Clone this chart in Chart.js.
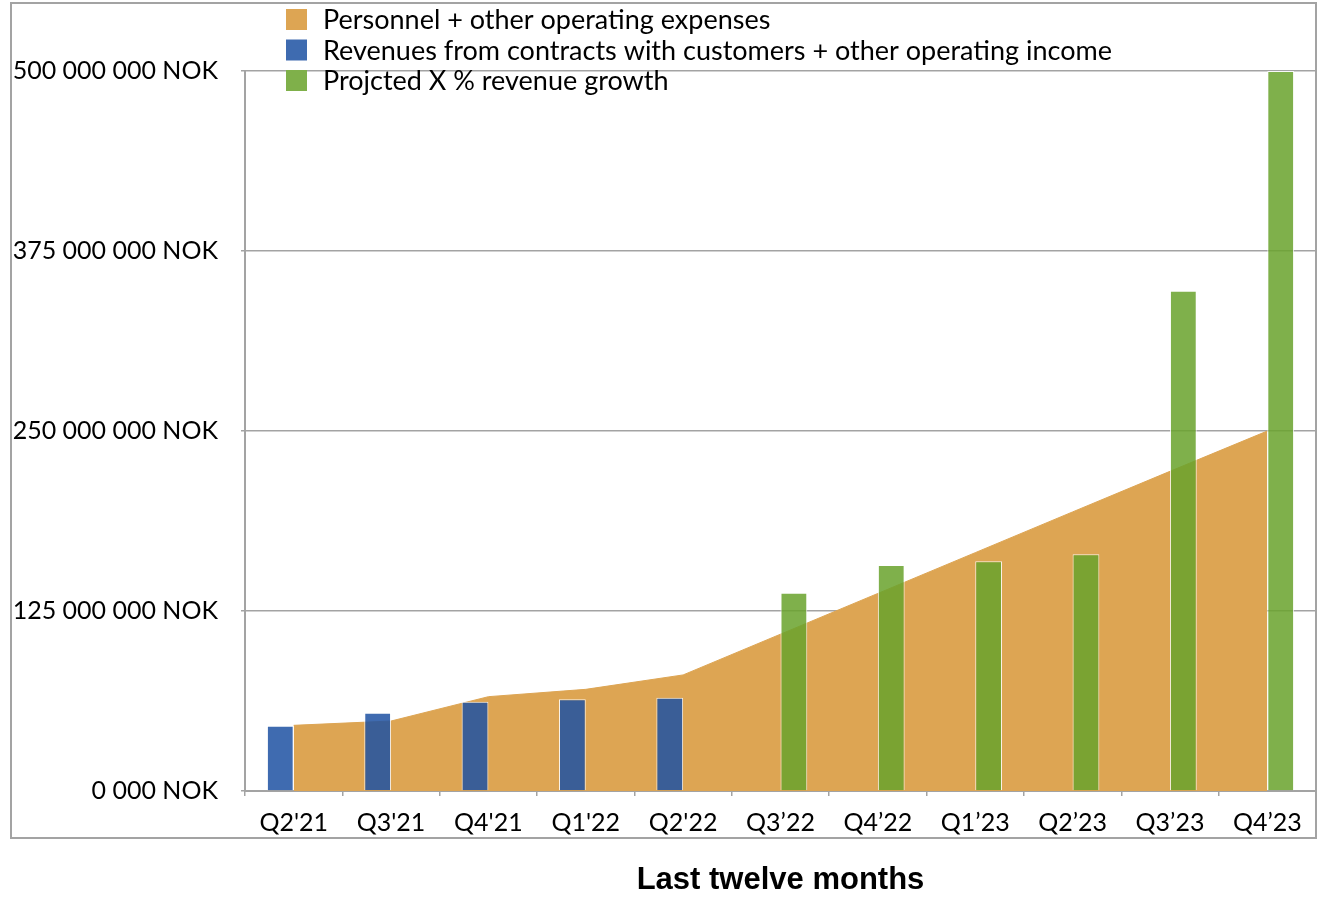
<!DOCTYPE html>
<html>
<head>
<meta charset="utf-8">
<script src="https://cdn.jsdelivr.net/npm/chart.js@4.4.1/dist/chart.umd.min.js"></script>
<style>
  html, body { margin: 0; padding: 0; background: #fff; }
  #wrap { width: 1326px; height: 906px; }
</style>
</head>
<body>
<div id="wrap"><canvas id="chart" width="1326" height="906"></canvas></div>
<script>
// values in millions of NOK
const quarters = ["Q2'21", "Q3'21", "Q4'21", "Q1'22", "Q2'22", "Q3\u201922", "Q4\u201922", "Q1\u201923", "Q2\u201923", "Q3\u201923", "Q4\u201923"];
const expenses = [45.6, 48.6, 65.5, 70.6, 80.6, 108.9, 137.2, 165.5, 193.8, 222.0, 250];
const revenues = [45.3, 54.4, 62.0, 63.7, 64.8, null, null, null, null, null, null];
const projected = [null, null, null, null, null, 137.7, 156.9, 159.5, 164.4, 347.4, 500];
const yTickLabels = ['0 000 NOK', '125 000 000 NOK', '250 000 000 NOK', '375 000 000 NOK', '500 000 000 NOK'];
const legendLabels = ['Personnel + other operating expenses', 'Revenues from contracts with customers + other operating income', 'Projcted X % revenue growth'];

const gridGray = '#a3a3a3';

const framePlugin = {
    id: 'frame',
    beforeDraw(chart) {
        const ctx = chart.ctx;
        ctx.save();
        ctx.fillStyle = '#fff';
        ctx.fillRect(0, 0, chart.width, chart.height);
        ctx.strokeStyle = gridGray;
        ctx.lineWidth = 2;
        ctx.strokeRect(11, 3, chart.chartArea.right - 11, 835);
        ctx.restore();
    }
};

const legendPlugin = {
    id: 'topLegend',
    afterDraw(chart) {
        const ctx = chart.ctx;
        const swatches = ['rgb(221,165,83)', 'rgb(62,107,176)', 'rgb(127,176,74)'];
        ctx.save();
        ctx.font = '27px Lato';
        ctx.textBaseline = 'middle';
        ctx.textAlign = 'left';
        legendLabels.forEach((label, i) => {
            const cy = 19.5 + i * 30.5;
            ctx.fillStyle = swatches[i];
            ctx.fillRect(286, cy - 10.5, 21, 21);
            ctx.fillStyle = '#000';
            ctx.fillText(label, 323, cy + 1);
        });
        ctx.restore();
    }
};

const ctx = document.getElementById('chart').getContext('2d');
new Chart(ctx, {
    type: 'bar',
    data: {
        labels: quarters,
        datasets: [
            {
                type: 'line',
                label: legendLabels[0],
                data: expenses,
                fill: 'origin',
                backgroundColor: 'rgb(221,165,83)',
                borderColor: 'rgb(221,165,83)',
                borderWidth: 1,
                pointRadius: 0,
                tension: 0,
                order: 3
            },
            {
                label: legendLabels[1],
                data: revenues,
                backgroundColor: 'rgba(31,83,163,0.86)',
                borderColor: 'rgba(255,255,255,0.85)',
                borderWidth: 1,
                order: 1
            },
            {
                label: legendLabels[2],
                data: projected,
                backgroundColor: 'rgba(106,163,45,0.86)',
                borderColor: 'rgba(255,255,255,0.85)',
                borderWidth: 1,
                order: 2
            }
        ]
    },
    options: {
        responsive: false,
        animation: false,
        devicePixelRatio: 1,
        layout: { padding: { top: 71, right: 10, left: 0, bottom: 0 } },
        datasets: {
            bar: { barPercentage: 1.0, categoryPercentage: 0.55 }
        },
        plugins: {
            legend: { display: false },
            tooltip: { enabled: false }
        },
        scales: {
            x: {
                afterFit(scale) { scale.height = 115; },
                grid: {
                    display: true,
                    drawOnChartArea: false,
                    drawTicks: true,
                    tickLength: 5,
                    color: gridGray,
                    lineWidth: 1.5,
                    offset: true
                },
                border: { display: true, color: gridGray, width: 2 },
                ticks: {
                    color: '#000',
                    padding: 12,
                    maxRotation: 0,
                    font: { family: 'Lato', size: 25 }
                },
                title: {
                    display: true,
                    text: 'Last twelve months',
                    color: '#000',
                    font: { family: 'Liberation Sans', size: 31, weight: 'bold' },
                    padding: { top: 0, bottom: 7 }
                }
            },
            y: {
                min: 0,
                max: 500,
                afterFit(scale) { scale.width = 245; },
                grid: {
                    color: gridGray,
                    lineWidth: 1.5,
                    tickLength: 4,
                    drawTicks: true
                },
                border: { display: true, color: gridGray, width: 2 },
                ticks: {
                    stepSize: 125,
                    color: '#000',
                    padding: 23,
                    font: { family: 'Lato', size: 25 },
                    callback: (value, index) => yTickLabels[index]
                }
            }
        }
    },
    plugins: [framePlugin, legendPlugin]
});
</script>
</body>
</html>
